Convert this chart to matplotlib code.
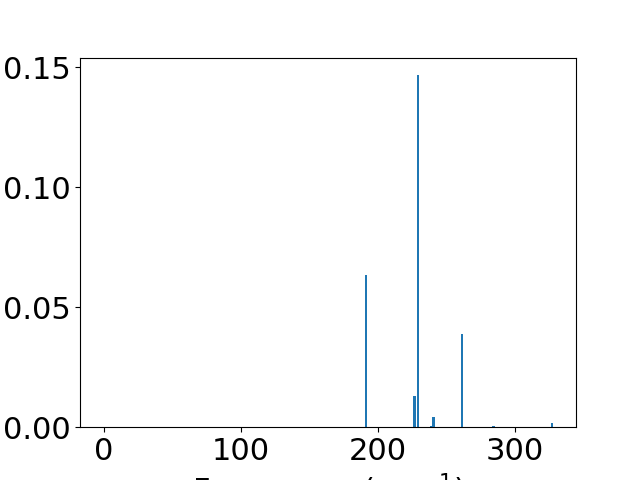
import matplotlib
matplotlib.use("Agg")
import matplotlib.pyplot as plt

# mode frequencies (cm^-1) and intensities
freqs = [0.0, 0.0, 0.0, 191.2, 226.6, 229.2, 239.0, 240.4, 261.3, 284.5, 327.0]
intensity = [0.0, 0.0, 0.0, 0.0634, 0.0130, 0.1466, 0.0004, 0.0043, 0.0390, 0.0006, 0.0017]

plt.rcParams["font.size"] = 22

fig = plt.figure(figsize=(6.4, 4.8), dpi=100)
plt.bar(freqs, intensity, width=2)
plt.xlabel("Frequency (cm$^{-1}$)")
plt.yticks([0.0, 0.05, 0.10, 0.15])
plt.savefig("out.png")
